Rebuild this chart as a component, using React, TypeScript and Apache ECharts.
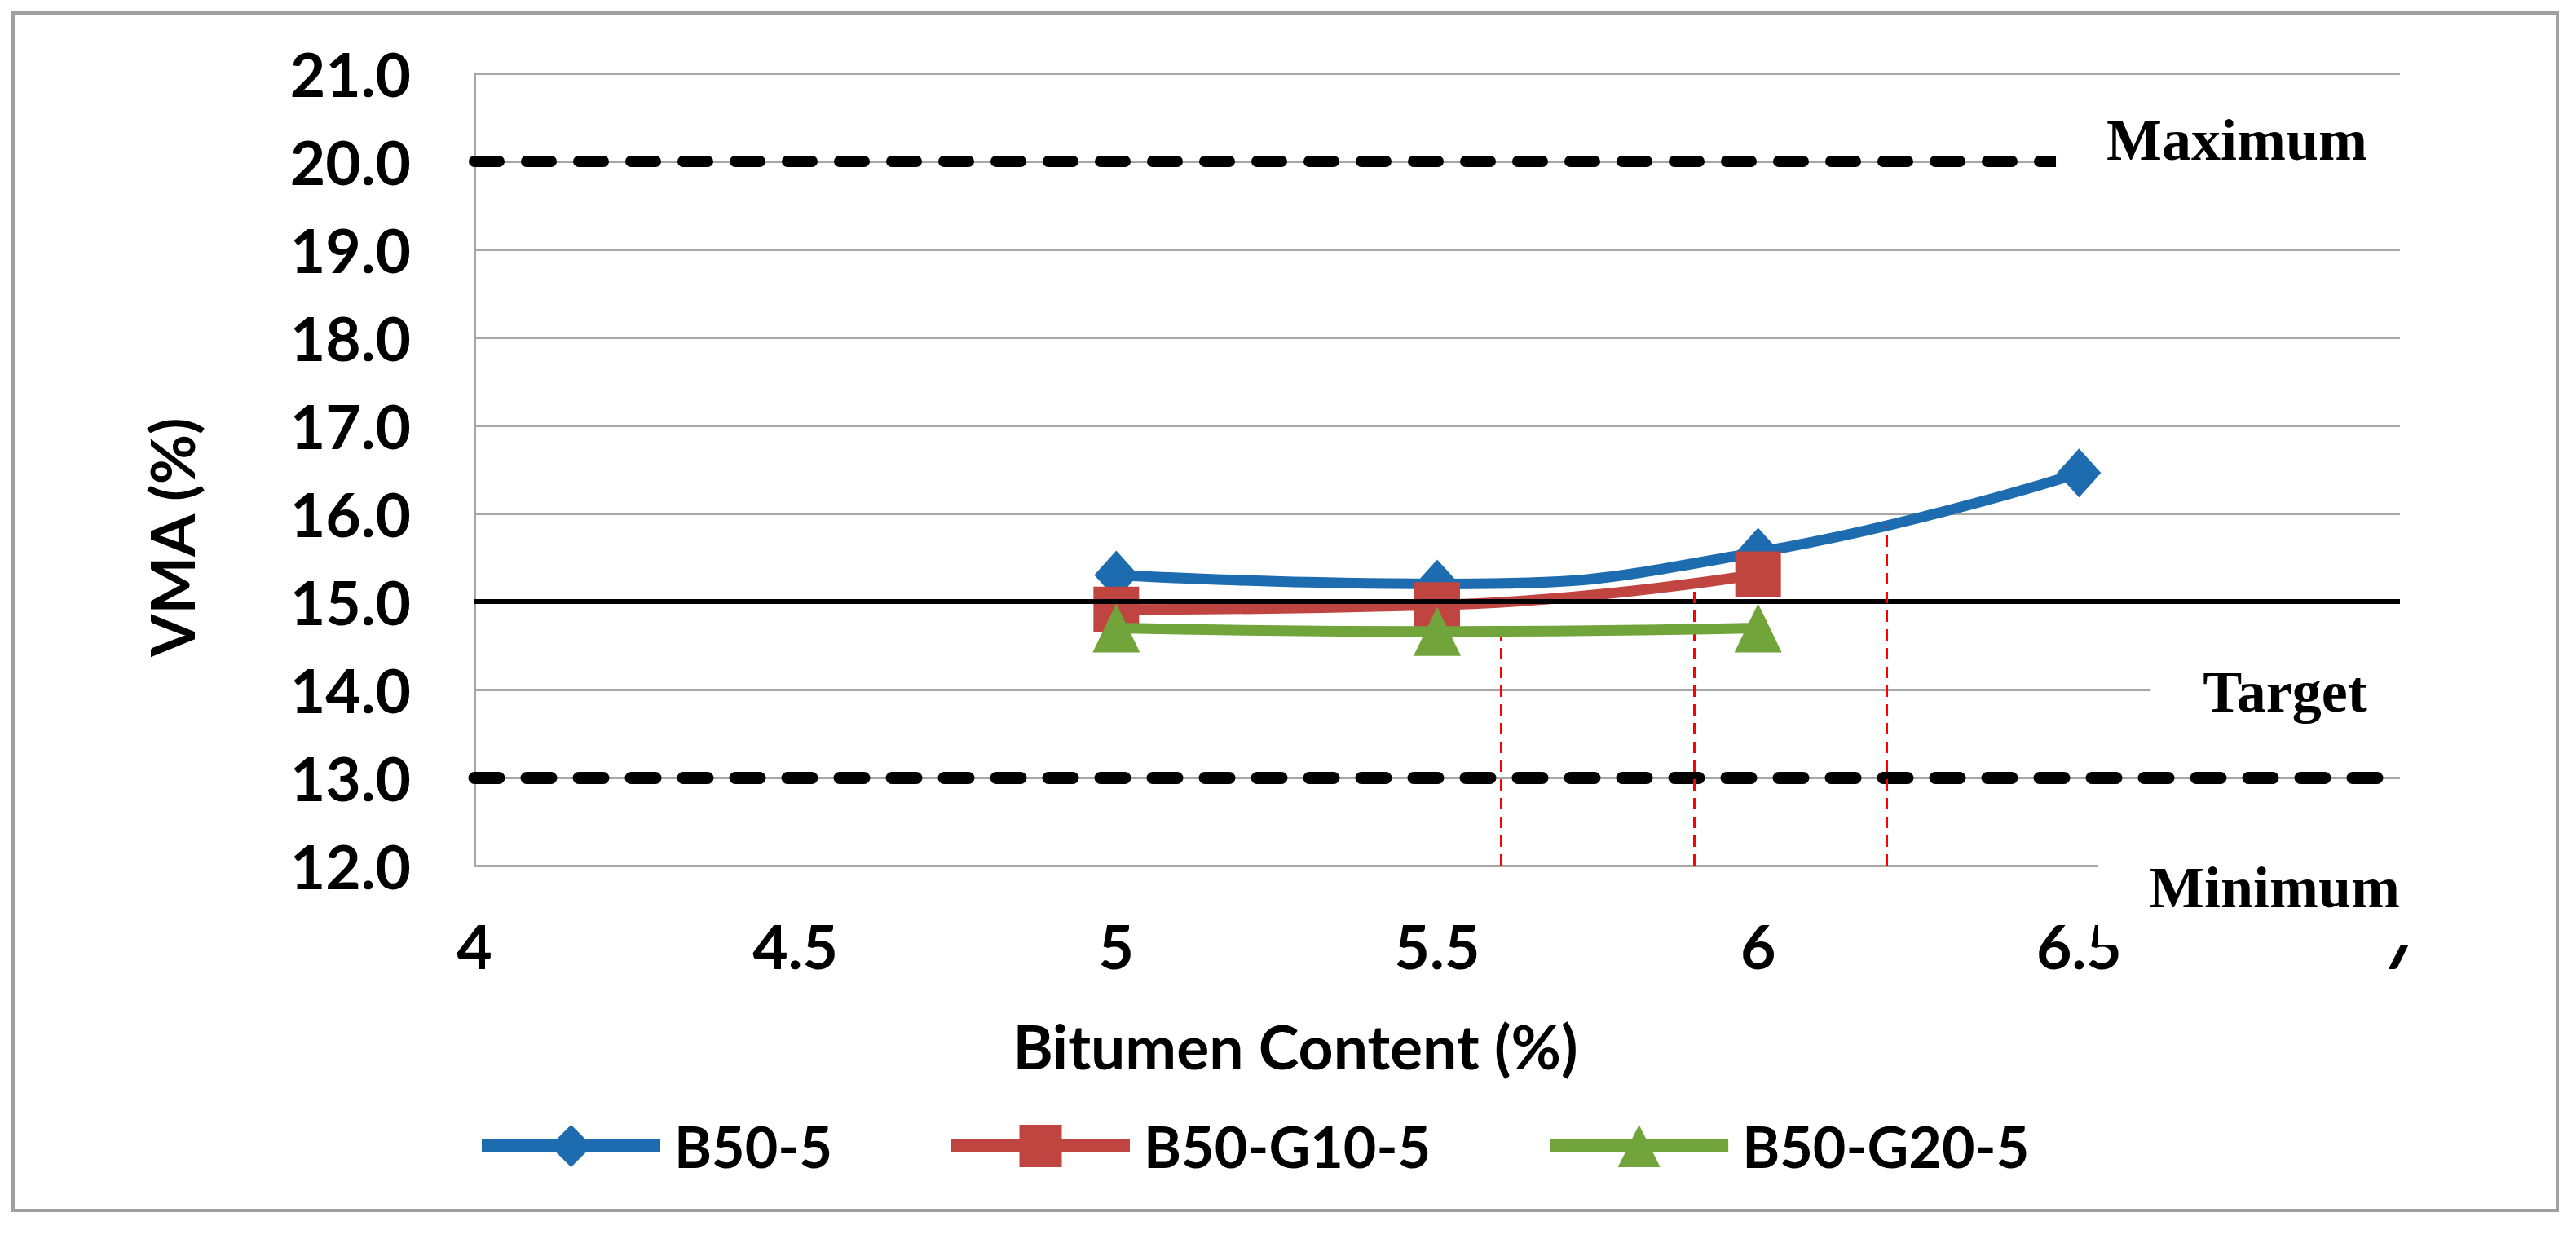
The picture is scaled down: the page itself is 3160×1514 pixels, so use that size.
import React, { useEffect, useRef } from "react";
import * as echarts from "echarts";

// ---- data ----
const bitumenB50_5 = [5, 5.5, 6, 6.5];
const vmaB50_5 = [15.3, 15.2, 15.56, 16.46];
const bitumenG10 = [5, 5.5, 6];
const vmaB50_G10_5 = [14.91, 14.96, 15.31];
const bitumenG20 = [5, 5.5, 6];
const vmaB50_G20_5 = [14.7, 14.66, 14.7];

const seriesNames = ["B50-5", "B50-G10-5", "B50-G20-5"];
const limitMax = 20;
const limitTarget = 15;
const limitMin = 13;
const limitLabels = ["Maximum", "Target", "Minimum"];
const optimumX = [5.6, 5.9, 6.2];
const optimumTop = [14.6, 15.2, 15.84];

const xTitle = "Bitumen Content (%)";
const yTitle = "VMA (%)";

const pairs = (xs: number[], ys: number[]) => xs.map((x, i) => [x, ys[i]]);

const FONT = "Lato, 'Open Sans', sans-serif";
const SERIF = "'Liberation Serif', 'DejaVu Serif', serif";

export default function App() {
  const ref = useRef<HTMLDivElement>(null);
  useEffect(() => {
    if (!ref.current) return;
    const chart = echarts.init(ref.current, null, { renderer: "svg" });
    const labelBox = (text: string, x: number, y: number, padX: number) => ({
      type: "text",
      x,
      y,
      z: 100,
      style: {
        text,
        fontFamily: SERIF,
        fontWeight: "bold",
        fontSize: 72,
        lineHeight: 86,
        fill: "#000",
        align: "center",
        verticalAlign: "middle",
        backgroundColor: "#ffffff",
        padding: [28, padX],
      },
    });
    chart.setOption({
      animation: false,
      backgroundColor: "#ffffff",
      grid: { left: 582, top: 90, width: 2362, height: 972 },
      xAxis: {
        type: "value",
        min: 4,
        max: 7,
        interval: 0.5,
        axisLine: { show: false },
        axisTick: { show: false },
        splitLine: { show: false },
        axisLabel: {
          color: "#000",
          fontFamily: FONT,
          fontWeight: "bold",
          fontSize: 75,
          margin: 60,
          showMaxLabel: true,
          showMinLabel: true,
        },
      },
      yAxis: {
        type: "value",
        min: 12,
        max: 21,
        interval: 1,
        axisLine: { show: true, lineStyle: { color: "#a6a6a6", width: 3 } },
        axisTick: { show: false },
        splitLine: { show: true, lineStyle: { color: "#a6a6a6", width: 3 } },
        axisLabel: {
          color: "#000",
          fontFamily: FONT,
          fontWeight: "bold",
          fontSize: 75,
          margin: 78,
          formatter: (v: number) => v.toFixed(1),
        },
      },
      legend: {
        data: seriesNames,
        left: 578,
        top: 1366,
        itemWidth: 219,
        itemHeight: 65,
        itemGap: 138,
        lineStyle: { width: 16 },
        textStyle: {
          color: "#000",
          fontFamily: FONT,
          fontWeight: "bold",
          fontSize: 70,
          padding: [0, 0, 0, 12],
        },
      },
      graphic: [
        {
          type: "rect",
          z: 101,
          shape: { x: 16, y: 16, width: 3121, height: 1469 },
          style: { fill: "none", stroke: "#a0a0a0", lineWidth: 4 },
        },
        {
          type: "text",
          x: 210,
          y: 659,
          rotation: Math.PI / 2,
          style: {
            text: yTitle,
            fontFamily: FONT,
            fontWeight: "bold",
            fontSize: 75,
            fill: "#000",
            align: "center",
            verticalAlign: "middle",
          },
        },
        {
          type: "text",
          x: 1589,
          y: 1283,
          style: {
            text: xTitle,
            fontFamily: FONT,
            fontWeight: "bold",
            fontSize: 75,
            fill: "#000",
            align: "center",
            verticalAlign: "middle",
          },
        },
        labelBox(limitLabels[0], 2744, 172, 62),
        labelBox(limitLabels[1], 2803, 849, 64),
        labelBox(limitLabels[2], 2790, 1089, 62),
      ],
      series: [
        {
          name: seriesNames[0],
          type: "line",
          data: pairs(bitumenB50_5, vmaB50_5),
          smooth: 0.5,
          symbol: "diamond",
          symbolSize: [54, 60],
          lineStyle: { color: "#1e6cb0", width: 13 },
          itemStyle: { color: "#1e6cb0" },
          z: 3,
        },
        {
          name: seriesNames[1],
          type: "line",
          data: pairs(bitumenG10, vmaB50_G10_5),
          smooth: 0.5,
          symbol: "rect",
          symbolSize: [56, 56],
          lineStyle: { color: "#c0443f", width: 13 },
          itemStyle: { color: "#c0443f" },
          z: 4,
        },
        {
          name: seriesNames[2],
          type: "line",
          data: pairs(bitumenG20, vmaB50_G20_5),
          smooth: 0.5,
          symbol: "triangle",
          symbolSize: [58, 60],
          lineStyle: { color: "#71a53b", width: 13 },
          itemStyle: { color: "#71a53b" },
          z: 5,
        },
        {
          name: "limits",
          type: "line",
          data: [],
          z: 6,
          markLine: {
            silent: true,
            symbol: "none",
            label: { show: false },
            data: [
              {
                yAxis: limitMax,
                lineStyle: { color: "#000", width: 14, type: [30, 34], cap: "round" },
              },
              {
                yAxis: limitTarget,
                lineStyle: { color: "#000", width: 6, type: "solid" },
              },
              {
                yAxis: limitMin,
                lineStyle: { color: "#000", width: 15, type: [30, 34], cap: "round" },
              },
              ...optimumX.map((x, i) => [
                { coord: [x, 12], lineStyle: { color: "#ff0000", width: 3, type: [14, 9] } },
                { coord: [x, optimumTop[i]] },
              ]),
            ],
          },
        },
      ],
    });
    return () => chart.dispose();
  }, []);
  return (
    <div
      ref={ref}
      style={{ position: "fixed", left: 0, top: 0, width: 3160, height: 1514, background: "#fff" }}
    />
  );
}
